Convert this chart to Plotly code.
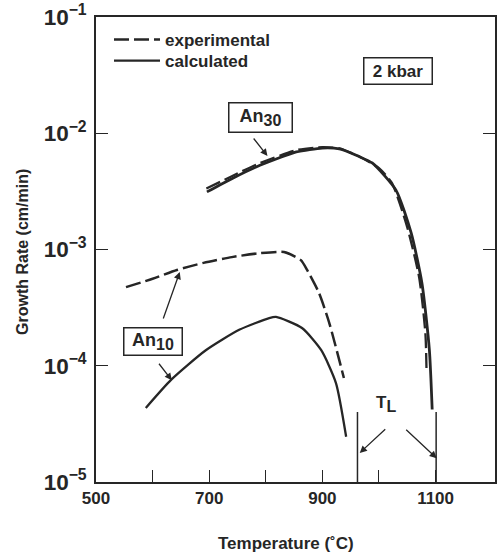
import math
import plotly.graph_objects as go

# ---- data ----
an10_exp_T = [553, 600, 643, 690, 740, 790, 832, 862, 873, 894, 912, 938]
an10_exp_rate = [4.75e-4, 5.6e-4, 6.67e-4, 7.67e-4, 8.6e-4, 9.3e-4, 9.5e-4, 8.1e-4, 6.67e-4, 4.23e-4, 2.35e-4, 7.85e-5]

an10_calc_T = [588, 633, 694, 753, 806, 818, 864, 898, 924, 942]
an10_calc_rate = [4.34e-5, 7.6e-5, 1.36e-4, 2.04e-4, 2.57e-4, 2.63e-4, 2.11e-4, 1.36e-4, 7.1e-5, 2.45e-5]

an30_exp_T = [695, 740, 783, 854, 900, 930, 965, 1000, 1023, 1050, 1071, 1082, 1084]
an30_exp_rate = [3.35e-3, 4.27e-3, 5.37e-3, 7.16e-3, 7.59e-3, 7.41e-3, 6.3e-3, 5.0e-3, 3.72e-3, 1.55e-3, 5.75e-4, 1.9e-4, 9.1e-5]

an30_calc_T = [696, 740, 783, 854, 900, 930, 965, 988, 1030, 1057, 1076, 1089, 1094]
an30_calc_rate = [3.13e-3, 4.07e-3, 5.13e-3, 6.9e-3, 7.46e-3, 7.33e-3, 6.3e-3, 5.55e-3, 3.24e-3, 1.38e-3, 5.1e-4, 1.38e-4, 4.2e-5]

liquidus_T = [962, 1101]          # T_L markers
liquidus_top = 4.0e-5

# pointer arrows: head (T, rate) on a curve
arrow_T = [803, 648, 634, 966, 1102]
arrow_rate = [6.37e-3, 6.4e-4, 7.5e-5, 1.78e-5, 1.6e-5]

x_tickvals = [500, 600, 700, 800, 900, 1000, 1100]
x_ticktext = ["500", "", "700", "", "900", "", "1100"]

INK = "#262626"
FONT = "Liberation Sans"
DASH = "15px,5px"

# plot-area geometry (pixels) used to place paper-anchored labels
L, R, T, B = 96, 4, 17, 72
W, H = 499, 554
PW, PH = W - L - R, H - T - B


def px(xp):
    return (xp - L) / PW


def py(yp):
    return (H - B - yp) / PH


def bold(size):
    return dict(family=FONT, size=size, color=INK, weight="bold")


fig = go.Figure()

fig.add_trace(go.Scatter(x=an10_exp_T, y=an10_exp_rate, mode="lines", name="experimental",
                         line=dict(color=INK, width=2.5, dash=DASH, shape="spline", smoothing=0.6),
                         legend="legend"))
fig.add_trace(go.Scatter(x=an10_calc_T, y=an10_calc_rate, mode="lines", name="calculated",
                         line=dict(color=INK, width=2.3, shape="spline", smoothing=0.6),
                         legend="legend2"))
fig.add_trace(go.Scatter(x=an30_calc_T, y=an30_calc_rate, mode="lines", name="calculated",
                         line=dict(color=INK, width=2.8, shape="spline", smoothing=0.6),
                         showlegend=False))
fig.add_trace(go.Scatter(x=an30_exp_T, y=an30_exp_rate, mode="lines", name="experimental",
                         line=dict(color=INK, width=2.3, dash=DASH, shape="spline", smoothing=0.6),
                         showlegend=False))

# liquidus vertical lines
for t in liquidus_T:
    fig.add_shape(type="line", xref="x", yref="y", x0=t, x1=t, y0=1e-5, y1=liquidus_top,
                  line=dict(color=INK, width=1.5))

# arrows (head on curve, tail offset in px); annotation y on a log axis is log10(value)
tails = [(-15, -19), (-17, 48), (-14, -18), (27, -25), (-32, -30)]
for hx, hy, (ax, ay) in zip(arrow_T, arrow_rate, tails):
    fig.add_annotation(x=hx, y=math.log10(hy), xref="x", yref="y", text="",
                       showarrow=True, ax=ax, ay=ay, arrowhead=2, arrowsize=1.1, arrowwidth=1.3,
                       arrowcolor=INK, standoff=0, startstandoff=0)

# boxed labels
box = dict(bordercolor=INK, borderwidth=1.5, borderpad=2, bgcolor="white", showarrow=False,
           xref="paper", yref="paper", xanchor="center", yanchor="middle", align="center",
           valign="middle")
fig.add_annotation(text="2 kbar", x=px(397.5), y=py(70.5), width=63, height=21, font=bold(17), **box)
fig.add_annotation(text="An<sub><span style='font-size:16px'>30</span></sub>", x=px(260), y=py(117.5),
                   width=58, height=24, font=bold(18), **box)
fig.add_annotation(text="An<sub><span style='font-size:16px'>10</span></sub>", x=px(152.5), y=py(341.5),
                   width=53, height=22, font=bold(18), **box)
fig.add_annotation(text="T<sub><span style='font-size:16px'>L</span></sub>", x=px(398), y=py(417),
                   xref="paper", yref="paper", showarrow=False, font=bold(17))

# axis titles
fig.add_annotation(text="Growth Rate (cm/min)", x=px(22), y=py(252), xref="paper", yref="paper",
                   showarrow=False, textangle=-90, xanchor="center", yanchor="middle",
                   font=bold(16))
fig.add_annotation(text="Temperature (˚C)", x=px(286), y=py(543), xref="paper", yref="paper",
                   showarrow=False, xanchor="center", yanchor="middle", font=bold(17))

leg = dict(xanchor="left", yanchor="top", bgcolor="rgba(0,0,0,0)", font=bold(17),
           tracegroupgap=0, itemwidth=46)
fig.update_layout(
    width=W, height=H,
    margin=dict(l=L, r=R, t=T, b=B, autoexpand=False),
    paper_bgcolor="white", plot_bgcolor="white",
    font=dict(family=FONT, color=INK),
    showlegend=True,
    legend=dict(x=px(109), y=py(22), **leg),
    legend2=dict(x=px(109), y=py(43), **leg),
    xaxis=dict(range=[500, 1205], tickmode="array", tickvals=x_tickvals, ticktext=x_ticktext,
               ticks="inside", ticklen=12, tickwidth=1.3, tickcolor=INK,
               showline=True, linecolor=INK, linewidth=1.5, mirror=True,
               showgrid=False, zeroline=False, automargin=False,
               tickfont=bold(17)),
    yaxis=dict(type="log", range=[-5, -1], dtick=1, exponentformat="power", showexponent="all",
               ticks="inside", ticklen=12, tickwidth=1.3, tickcolor=INK,
               showline=True, linecolor=INK, linewidth=1.5, mirror="allticks",
               showgrid=False, zeroline=False, automargin=False, ticklabelstandoff=4,
               tickfont=bold(18)),
)

fig.write_html("out.html", config={"displayModeBar": False},
               post_script="document.body.style.margin='0';")
